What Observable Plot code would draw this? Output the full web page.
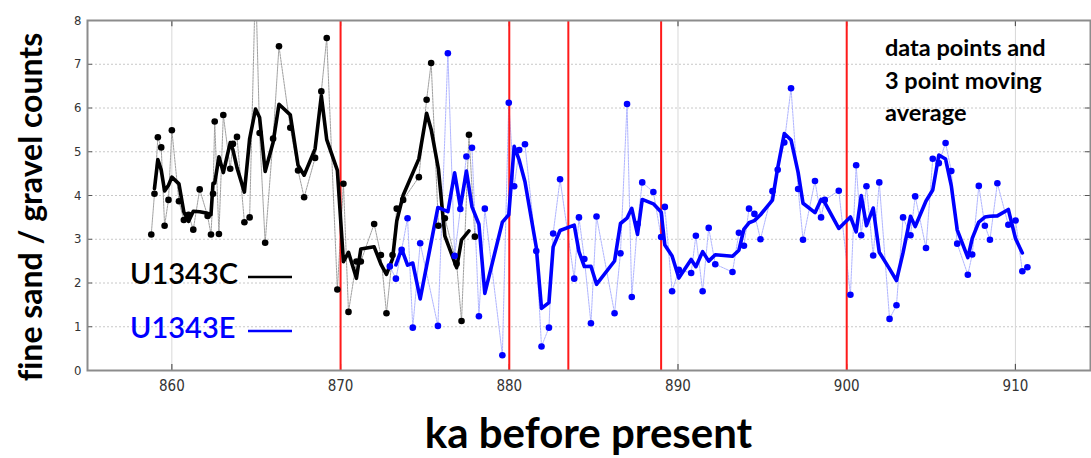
<!DOCTYPE html>
<html>
<head>
<meta charset="utf-8">
<script src="https://cdn.jsdelivr.net/npm/d3@7"></script>
<script src="https://cdn.jsdelivr.net/npm/@observablehq/plot@0.6"></script>
<style>
  html, body { margin: 0; padding: 0; background: #fff; }
  #chart { width: 1091px; height: 458px; }
  #chart text { font-variant-ligatures: none; }
</style>
</head>
<body>
<div id="chart"></div>
<script>
// ---- data ----
const xTicks = [860, 870, 880, 890, 900, 910];
const yTicks = [0, 1, 2, 3, 4, 5, 6, 7, 8];
const redLines = [870, 880, 883.5, 889, 900];

// U1343C (black)
const blackKa = [858.78, 858.97, 859.17, 859.37, 859.57, 859.80, 860.00, 860.42, 860.71, 860.99,
  861.27, 861.65, 862.12, 862.32, 862.44, 862.54, 862.79, 863.05, 863.46, 863.62,
  863.86, 864.30, 864.61, 864.96, 865.20, 865.53, 866.00, 866.35, 867.02, 867.48,
  867.84, 868.49, 868.86, 869.18, 869.81, 870.17, 870.47, 870.94, 871.20, 871.99,
  872.39, 872.72, 873.08, 873.33, 873.71, 874.64, 875.10, 875.37, 875.80, 876.18,
  876.88, 877.17, 877.61, 877.96];
const blackVal = [3.11, 4.04, 5.33, 5.10, 3.31, 3.90, 5.49, 3.87, 3.44, 3.56,
  3.22, 4.14, 3.53, 3.11, 4.04, 5.69, 3.12, 5.84, 4.61, 5.18,
  5.34, 3.39, 3.50, 9.00, 5.43, 2.92, 5.30, 7.41, 5.55, 4.57,
  3.96, 4.86, 6.38, 7.60, 1.85, 4.27, 1.34, 2.49, 2.49, 3.35,
  2.64, 1.31, 2.64, 3.70, 3.90, 4.42, 6.19, 7.03, 3.31, 3.48,
  2.44, 1.13, 5.39, 3.06];

// U1343E (blue)
const blueKa = [872.92, 873.28, 873.62, 873.97, 874.28, 874.72, 875.77, 876.36, 876.76, 877.10,
  877.46, 877.79, 878.20, 878.55, 879.59, 879.97, 880.29, 880.59, 880.93, 881.60,
  881.91, 882.35, 882.60, 883.01, 883.85, 884.13, 884.45, 884.84, 885.17, 886.24,
  886.59, 886.98, 887.26, 887.60, 887.88, 888.54, 889.00, 889.22, 889.65, 890.05,
  890.78, 891.06, 891.46, 891.82, 892.21, 893.23, 893.61, 893.91, 894.21, 894.53,
  894.89, 895.60, 895.91, 896.30, 896.70, 897.12, 897.41, 898.12, 898.48, 898.70,
  899.53, 900.22, 900.56, 900.86, 901.17, 901.57, 901.93, 902.54, 902.95, 903.34,
  903.78, 904.06, 904.70, 905.10, 905.46, 905.86, 906.20, 906.55, 907.18, 907.44,
  907.83, 908.19, 908.49, 908.93, 909.58, 910.01, 910.41, 910.71];
const blueVal = [2.38, 2.10, 2.76, 3.48, 0.98, 2.91, 1.02, 7.25, 2.62, 3.69,
  4.89, 5.09, 1.24, 3.70, 0.35, 6.12, 4.21, 5.04, 5.17, 2.73,
  0.55, 0.98, 3.13, 4.37, 2.10, 3.50, 2.55, 1.08, 3.52, 1.31,
  2.68, 6.09, 1.68, 3.35, 4.30, 4.08, 3.05, 3.74, 1.81, 2.30,
  2.23, 3.08, 1.81, 3.26, 2.43, 2.25, 3.15, 2.85, 3.70, 3.58,
  3.00, 4.10, 4.59, 5.21, 6.45, 4.15, 2.99, 4.33, 3.50, 3.90,
  4.11, 1.73, 4.69, 3.09, 4.21, 2.63, 4.30, 1.18, 1.49, 3.50,
  3.09, 3.98, 2.80, 4.84, 4.74, 5.20, 4.56, 2.90, 2.19, 2.65,
  4.22, 3.31, 2.99, 4.28, 3.33, 3.43, 2.27, 2.36];

const seriesNames = ["U1343C", "U1343E"];
const seriesColors = ["#000000", "#0000ff"];
const xTitle = "ka before present";
const yTitle = "fine sand / gravel counts";
const noteLines = ["data points and", "3 point moving", "average"];

// ---- build tables ----
const black = blackKa.map((x, i) => ({x, y: blackVal[i]}));
const blue = blueKa.map((x, i) => ({x, y: blueVal[i]}));

const W = 1091, H = 458, mL = 87, mR = 1, mT = 20, mB = 88;
const X0 = 855, X1 = 914.45;
const narrow = "'Liberation Sans Narrow', 'DejaVu Sans Condensed', Arial, sans-serif";
const titleFont = "Lato, 'Open Sans', sans-serif";

const chart = Plot.plot({
  width: W, height: H,
  marginLeft: mL, marginRight: mR, marginTop: mT, marginBottom: mB,
  x: {domain: [X0, X1]},
  y: {domain: [0, 8]},
  style: {background: "#fff", fontFamily: narrow},
  marks: [
    Plot.gridY(yTicks, {stroke: "#c8c8c8", strokeOpacity: 1, strokeDasharray: "2,2"}),
    Plot.gridX(xTicks, {stroke: "#d8d8d8", strokeOpacity: 1}),
    // small inward ticks
    Plot.ruleX(xTicks, {y1: 0, y2: 0.14, stroke: "#555", strokeWidth: 1.2}),
    Plot.ruleX(xTicks, {y1: 7.86, y2: 8, stroke: "#555", strokeWidth: 1.2}),
    Plot.ruleY(yTicks, {x1: X0, x2: X0 + 0.3, stroke: "#555", strokeWidth: 1}),
    Plot.ruleY(yTicks, {x1: X1 - 0.3, x2: X1, stroke: "#555", strokeWidth: 1}),
    Plot.axisY(yTicks, {tickSize: 0, tickPadding: 6, fontSize: 13, fill: "#333", label: null}),
    Plot.axisX(xTicks, {tickSize: 0, tickPadding: 10, fontSize: 15, fill: "#333", label: null}),
    // raw data connecting lines
    Plot.line(black, {x: "x", y: "y", stroke: "#a0a0a0", strokeWidth: 1, strokeDasharray: "2,1", clip: true}),
    Plot.line(blue, {x: "x", y: "y", stroke: "#b0b5ff", strokeWidth: 1, strokeDasharray: "2,1", clip: true}),
    // event lines
    Plot.ruleX(redLines, {stroke: "#ff1a1a", strokeWidth: 2}),
    // 3-point moving averages
    Plot.lineY(black, Plot.windowY({k: 3, strict: true}, {x: "x", y: "y", stroke: seriesColors[0], strokeWidth: 3.6, clip: true})),
    Plot.lineY(blue, Plot.windowY({k: 3, strict: true}, {x: "x", y: "y", stroke: seriesColors[1], strokeWidth: 3.6, clip: true})),
    // data points
    Plot.dot(black, {x: "x", y: "y", r: 3.3, fill: seriesColors[0], stroke: "none", clip: true}),
    Plot.dot(blue, {x: "x", y: "y", r: 3.3, fill: seriesColors[1], stroke: "none", clip: true}),
    Plot.frame({stroke: "#8c8c8c", strokeWidth: 2})
  ]
});

document.getElementById("chart").appendChild(chart);

// ---- titles, legend and note (real text) ----
const svg = d3.select(chart);
const g = svg.append("g").attr("text-anchor", "start");

g.append("text")
  .attr("x", (mL + W - mR) / 2).attr("y", 437)
  .attr("text-anchor", "middle").attr("dominant-baseline", "middle")
  .style("font-family", titleFont).style("font-weight", "bold").style("font-size", "42px")
  .attr("fill", "#000").text(xTitle);

g.append("text")
  .attr("transform", `translate(34,${207}) rotate(-90)`)
  .attr("text-anchor", "middle").attr("dominant-baseline", "middle")
  .style("font-family", titleFont).style("font-weight", "bold").style("font-size", "32px")
  .attr("fill", "#000").text(yTitle);

const legendY = [277, 331];
seriesNames.forEach((name, i) => {
  g.append("text")
    .attr("x", 130).attr("y", legendY[i])
    .attr("text-anchor", "start").attr("dominant-baseline", "middle")
    .style("font-family", titleFont).style("font-weight", "600").style("font-size", "29px")
    .attr("fill", seriesColors[i]).text(name);
  g.append("line")
    .attr("x1", 248).attr("x2", 292).attr("y1", legendY[i]).attr("y2", legendY[i])
    .attr("stroke", seriesColors[i]).attr("stroke-width", 2.5);
});

noteLines.forEach((t, i) => {
  g.append("text")
    .attr("x", 885).attr("y", 50 + i * 32.5)
    .attr("text-anchor", "start").attr("dominant-baseline", "middle")
    .style("font-family", titleFont).style("font-weight", "bold").style("font-size", "23.5px")
    .attr("fill", "#000").text(t);
});
</script>
</body>
</html>
